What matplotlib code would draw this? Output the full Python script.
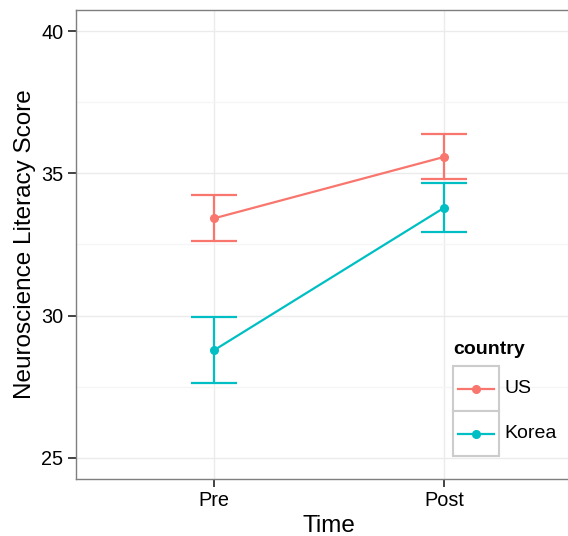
import matplotlib
matplotlib.use("Agg")
import matplotlib.pyplot as plt
from matplotlib.patches import Rectangle
from matplotlib.lines import Line2D

plt.rcParams['font.family'] = ['Liberation Sans', 'DejaVu Sans']

times = ["Pre", "Post"]
countries = ["US", "Korea"]
colors = ["#F8766D", "#00BFC4"]
means = {"US": [33.42, 35.58], "Korea": [28.78, 33.79]}
lower = {"US": [32.62, 34.80], "Korea": [27.63, 32.94]}
upper = {"US": [34.24, 36.37], "Korea": [29.94, 34.66]}
yticks = [25, 30, 35, 40]

W, H = 568, 536
fig = plt.figure(figsize=(W / 100, H / 100), dpi=100)
ax = fig.add_axes([76 / W, (H - 479) / H, (582 - 76) / W, (479 - 10) / H])

x = [1, 2]
for c, col in zip(countries, colors):
    m = means[c]
    yerr = [[mi - lo for mi, lo in zip(m, lower[c])], [hi - mi for mi, hi in zip(m, upper[c])]]
    ax.errorbar(x, m, yerr=yerr, fmt='none', ecolor=col, elinewidth=1.6,
                capsize=16.5, capthick=1.6, zorder=3)
    ax.plot(x, m, color=col, lw=1.6, marker='o', ms=5.5, zorder=4)

ax.set_xlim(0.4, 2.6)
ax.set_ylim(24.25, 40.75)
ax.set_xticks(x)
ax.set_xticklabels(times)
ax.set_yticks(yticks)
ax.set_yticks([27.5, 32.5, 37.5], minor=True)
ax.grid(which='major', color='#EBEBEB', lw=1.0, zorder=0)
ax.grid(which='minor', axis='y', color='#F5F5F5', lw=1.0, zorder=0)
ax.set_axisbelow(True)
ax.tick_params(which='major', length=6, width=1.2, color='#222222', labelsize=14.3,
               labelcolor='black', pad=3)
ax.tick_params(which='minor', length=0)
for s in ['left', 'bottom', 'top']:
    ax.spines[s].set_color('#7F7F7F')
    ax.spines[s].set_linewidth(1.0)
ax.spines['right'].set_visible(False)
ax.set_xlabel("Time", fontsize=17.5, labelpad=3)
ax.set_ylabel("Neuroscience Literacy Score", fontsize=17.5, labelpad=4)

# legend in pixel coordinates
ov = fig.add_axes([0, 0, 1, 1], facecolor='none')
ov.set_xlim(0, W)
ov.set_ylim(H, 0)
ov.axis('off')
ov.text(453, 349, "country", fontsize=14, fontweight='bold', va='center', ha='left')
key_tops = [366, 411]
for c, col, kt in zip(countries, colors, key_tops):
    ov.add_patch(Rectangle((453, kt), 46, 45, facecolor='white', edgecolor='#CCCCCC', lw=1.5))
    cy = kt + 22.5
    ov.add_line(Line2D([458, 494], [cy, cy], color=col, lw=1.6))
    ov.plot([476], [cy], marker='o', ms=5.5, color=col)
    ov.text(504, cy, c, fontsize=14, va='center', ha='left')

fig.savefig("out.png", dpi=100)
